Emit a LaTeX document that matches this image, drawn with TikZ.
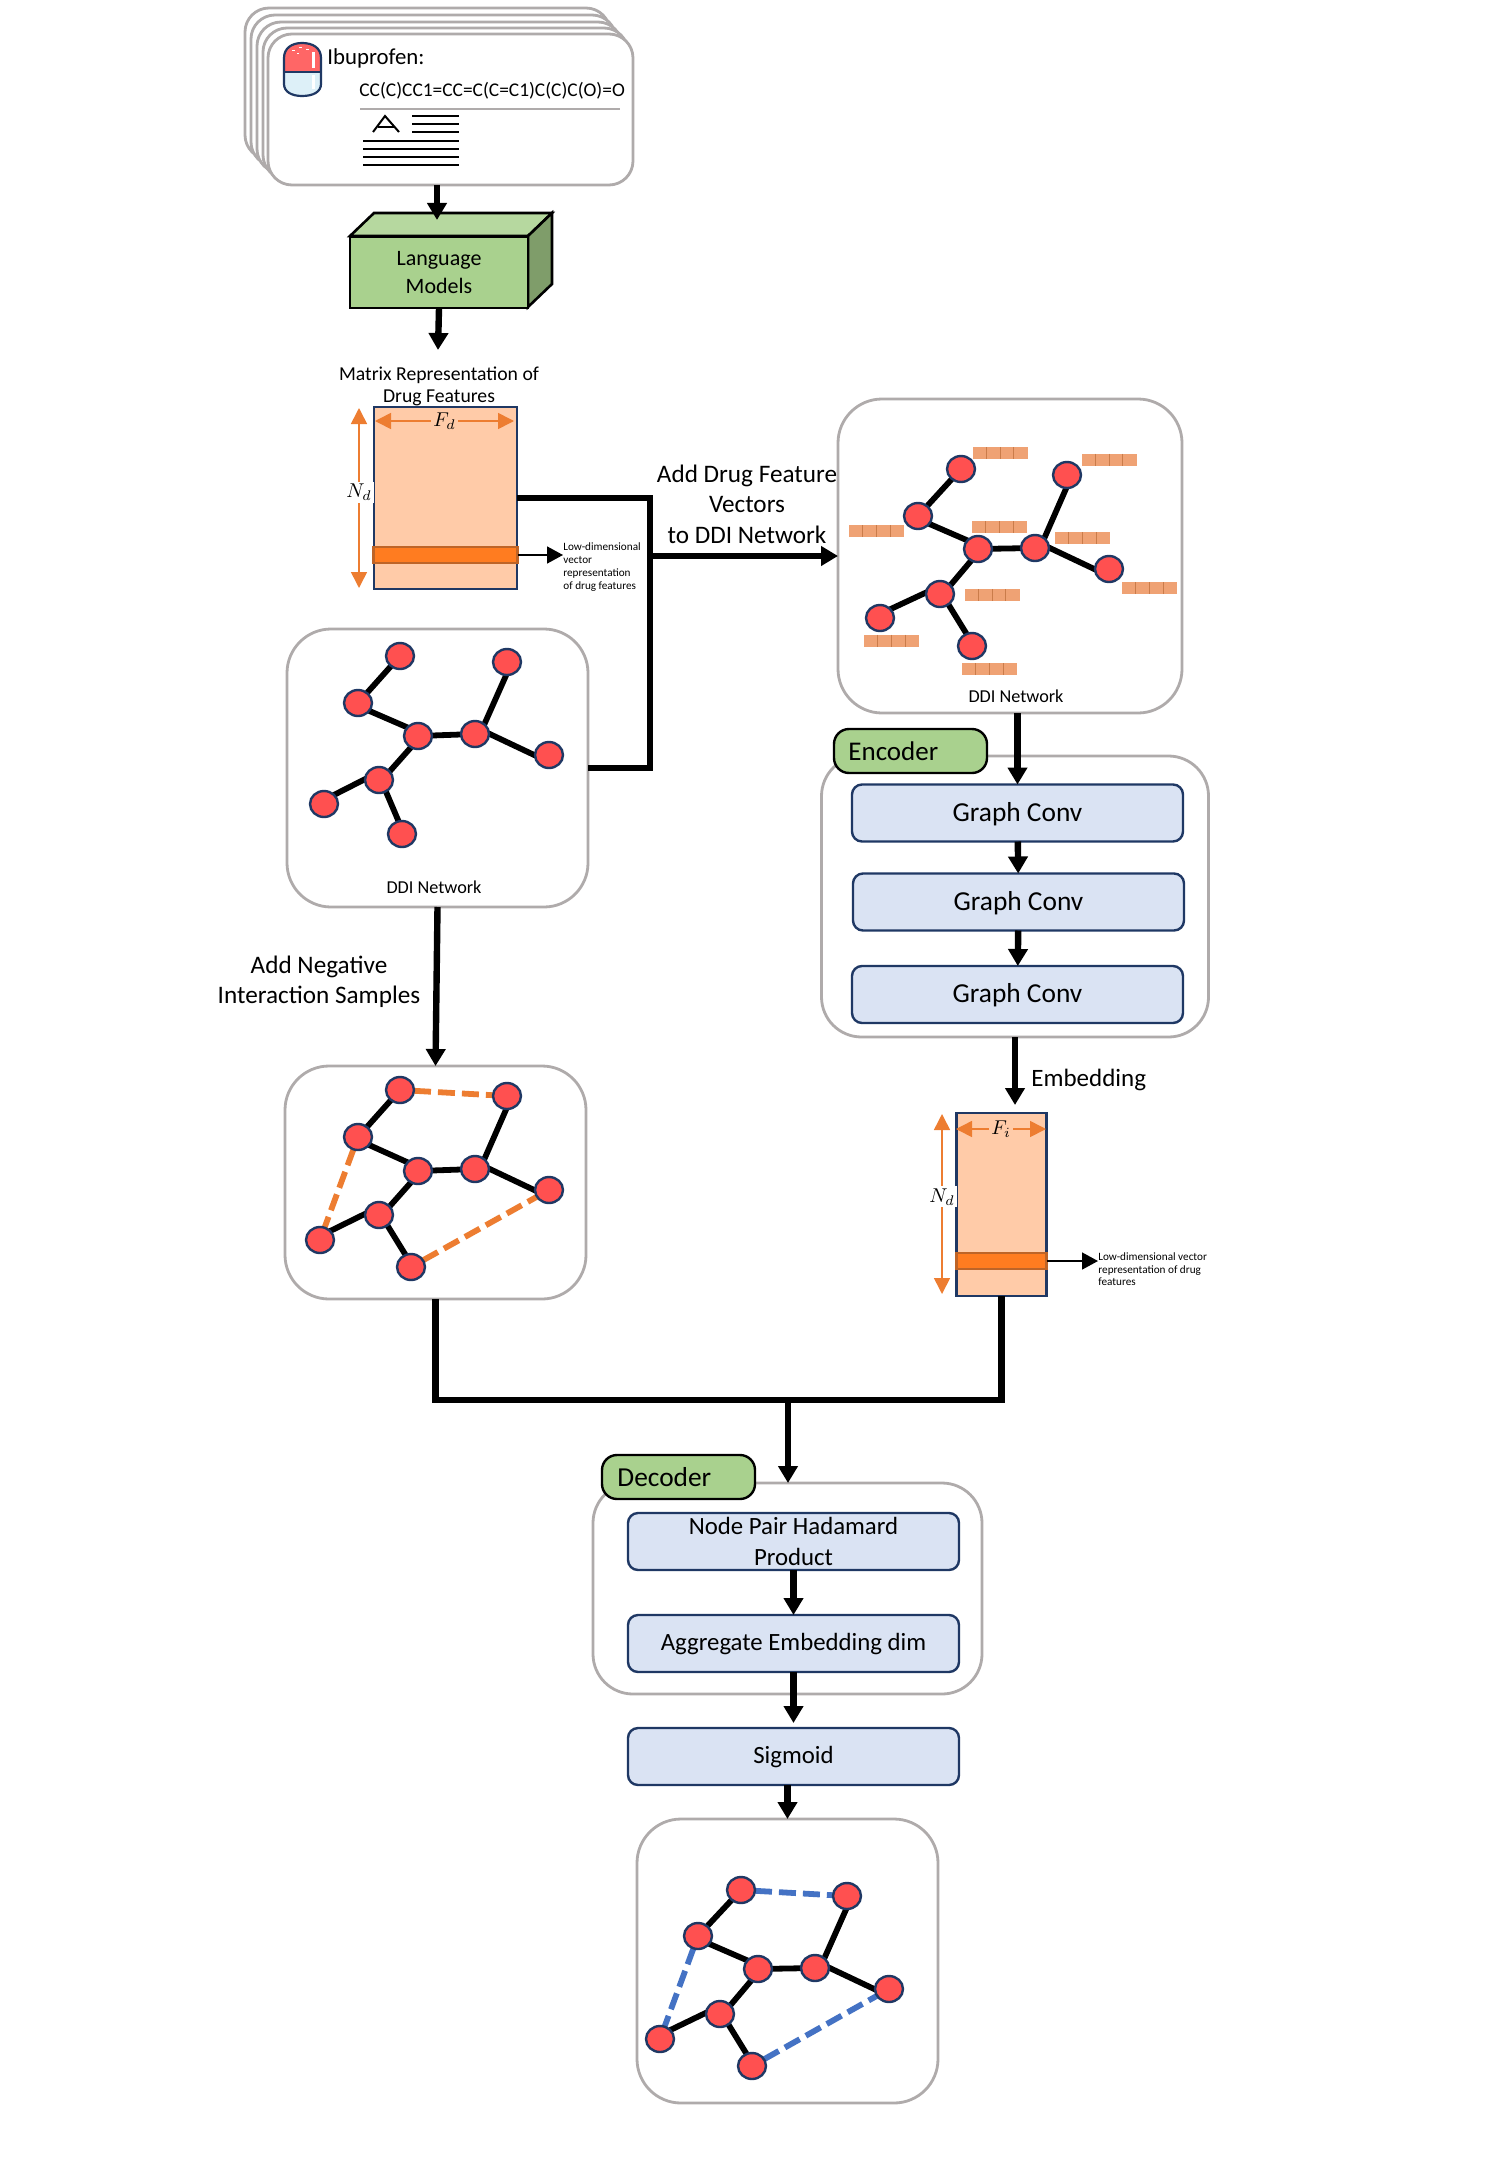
\documentclass[tikz,border=0pt]{standalone}
\usepackage{xcolor}
\usepackage{fontspec}
\setmainfont{Carlito}
\usetikzlibrary{arrows.meta}
\usetikzlibrary{shapes.geometric}
\definecolor{boxgray}{HTML}{AFABAB}
\definecolor{navy}{HTML}{1F3864}
\definecolor{nodered}{HTML}{FF5050}
\definecolor{langgreen}{HTML}{A9D18E}
\definecolor{peach}{HTML}{FFCBA8}
\definecolor{dimorange}{HTML}{ED7D31}
\definecolor{bandorange}{HTML}{FF7C20}
\definecolor{layerblue}{HTML}{DAE3F3}
\definecolor{linkblue}{HTML}{4472C4}
\definecolor{barorange}{HTML}{EFA274}
\pgfdeclarelayer{boxes}
\pgfdeclarelayer{links}
\pgfsetlayers{boxes,links,main}
\tikzset{
  edge/.style = {-{Triangle[length=8.5pt,width=9.5pt]},line width=3.2pt},
  wire/.style = {line width=3.2pt},
  thinedge/.style = {-{Triangle[length=8pt,width=8.5pt]},line width=.8pt},
  dimedge/.style = {{Triangle[length=8pt,width=8pt]}-{Triangle[length=8pt,width=8pt]},draw=dimorange,line width=.8pt},
  dimtext/.style = {inner sep=1pt,font=\fontsize{10}{12}\selectfont,text=black},
  link/.style = {line width=2.9pt},
  neglink/.style = {line width=2.9pt,draw=dimorange,dash pattern=on 8.5pt off 3.5pt},
  poslink/.style = {line width=2.9pt,draw=linkblue,dash pattern=on 8.5pt off 3.5pt},
  main node/.style = {ellipse,draw=navy,fill=nodered,line width=1.2pt,minimum width=14pt,minimum height=13pt,inner sep=0pt,outer sep=0pt},
  round box/.style = {draw=boxgray,fill=white,line width=1.4pt,rounded corners=22pt,outer sep=0pt,inner sep=0pt},
  card box/.style = {round box,rounded corners=12pt,minimum width=182.5pt,minimum height=75.5pt},
  layer box/.style = {draw=navy,fill=layerblue,line width=1.2pt,rounded corners=5pt,outer sep=0pt,inner sep=0pt,minimum width=165.5pt,minimum height=28.5pt,font=\fontsize{12.4}{15.4}\selectfont,align=center},
  conv box/.style = {layer box,font=\fontsize{13.7}{16}\selectfont,text height=11pt,text depth=3pt},
  one line/.style = {text height=10pt,text depth=3pt},
  tag box/.style = {draw=black,fill=langgreen,line width=1.2pt,rounded corners=7.5pt,outer sep=0pt,inner sep=0pt,minimum width=76.5pt,minimum height=22pt},
  matrix box/.style = {draw=navy,fill=peach,line width=1.4pt,outer sep=0pt,inner sep=0pt},
  band box/.style = {draw=dimorange!80!black,fill=bandorange,line width=1.2pt,outer sep=0pt,inner sep=0pt},
  feat bar/.style = {fill=barorange,minimum width=27.5pt,minimum height=6pt,inner sep=0pt,outer sep=0pt,
    path picture={\foreach \i in {1,2,3} \draw[dimorange!70!black,opacity=.5,line width=.4pt] ([xshift=\i*6.875pt]path picture bounding box.north west) -- ([xshift=\i*6.875pt]path picture bounding box.south west);}},
  big text/.style = {inner sep=0pt,font=\fontsize{12.6}{15.2}\selectfont,align=center},
  small text/.style = {inner sep=0pt,font=\fontsize{9.1}{11}\selectfont,align=center},
  tiny text/.style = {inner sep=0pt,font=\fontsize{5.6}{6.6}\selectfont,align=left},
}
% the tree shared by all four networks, its lines sit a little off the node centres
\newcommand{\netlinks}[1]{
  \begin{pgfonlayer}{links}
    \draw[link] (#11) -- (#12);
    \draw[link] ([yshift=-1.5pt]#12.center) -- ([yshift=2pt]#13.center);
    \draw[link] (#13) -- (#14);
    \draw[link] ([xshift=2.5pt]#14.center) -- ([xshift=2.5pt]#15.center);
    \draw[link] ([yshift=3.5pt]#14.center) -- ([yshift=-3.5pt]#16.center);
    \draw[link] ([xshift=1.5pt]#13.center) -- ([xshift=1.5pt]#17.center);
    \draw[link] ([yshift=4pt]#17.center) -- ([yshift=2pt]#18.center);
    \draw[link] ([xshift=1pt]#17.center) -- ([xshift=1pt]#19.center);
  \end{pgfonlayer}
}
\begin{document}
\begin{tikzpicture}[x=0.5pt,y=-0.5pt]
\path[use as bounding box] (0,0) rectangle (1500,2167);

% drug cards
\node[card box] (card1) at (427.5,83.5) {};
\node[card box] (card2) at (433.5,90.5) {};
\node[card box] (card3) at (439.5,97.5) {};
\node[card box] (card4) at (445.5,103.5) {};
\node[card box] (card5) at (450.5,109.5) {};

% pill
\fill[nodered!80!pink] (284,72) -- (284,58) .. controls (284,48) and (292,43) .. (302,43) .. controls (313,43) and (321,48) .. (321,58) -- (321,72) -- cycle;
\fill[cyan!12!white!95!gray] (284,72) -- (284,84) .. controls (284,92) and (292,96) .. (302,96) .. controls (313,96) and (321,92) .. (321,84) -- (321,72) -- cycle;
\draw[navy,line width=1.1pt] (284,72) -- (284,58) .. controls (284,48) and (292,43) .. (302,43) .. controls (313,43) and (321,48) .. (321,58) -- (321,84) .. controls (321,92) and (313,96) .. (302,96) .. controls (292,96) and (284,92) .. (284,84) -- cycle;
\draw[navy,line width=.6pt] (284,72) -- (321,72);
\fill[white] (312,52) rectangle (315,68);
\fill[white] (312,75) rectangle (315,89);
\fill[white] (292,50) rectangle (295,51);
\fill[white] (299,47) rectangle (302,48);
\fill[white] (306,49) rectangle (309,50);
\fill[white] (297,53) rectangle (299,54);

\node[big text,font=\fontsize{11.4}{13}\selectfont,anchor=west] (drugname) at (327,58) {Ibuprofen:};
\node[big text,font=\fontsize{9.7}{13}\selectfont,anchor=west] (smiles) at (359,91) {CC(C)CC1=CC=C(C=C1)C(C)C(O)=O};
\draw[boxgray,line width=.6pt] (360,109) -- (620,109);

% document icon
\draw[black,line width=1pt] (373,132) -- (385,116) -- (399,132);
\draw[black,line width=1pt] (378,127) -- (394,127);
\draw[black,line width=.6pt] (412,116) -- (459,116);
\draw[black,line width=.6pt] (412,124) -- (459,124);
\draw[black,line width=.6pt] (412,132) -- (459,132);
\draw[black,line width=.6pt] (363,141) -- (459,141);
\draw[black,line width=.6pt] (363,149) -- (459,149);
\draw[black,line width=.6pt] (363,157) -- (459,157);
\draw[black,line width=.6pt] (363,165) -- (459,165);

% language model block
\draw[black,fill=langgreen!85!white,line width=1.3pt] (350,236) -- (374,213) -- (552,213) -- (528,236) -- cycle;
\draw[black,fill=langgreen!75!black,line width=1.3pt] (528,236) -- (552,213) -- (552,284) -- (528,307) -- cycle;
\node[draw=black,fill=langgreen,line width=1.3pt,minimum width=89pt,minimum height=35.5pt,inner sep=0pt,outer sep=0pt,font=\fontsize{11}{14}\selectfont,align=center] (lang) at (439,272.5) {Language\\Models};
\coordinate (langtop) at (437,220);
\coordinate (matlabel) at (438,350);
\draw[edge] (card5.south -| langtop) -- (langtop);
\draw[edge] (lang.south) -- (matlabel);

% drug feature matrix
\node[small text,font=\fontsize{9.85}{11}\selectfont] (mattext) at (439,386) {Matrix Representation of\\Drug Features};
\node[matrix box,minimum width=71.5pt,minimum height=91pt] (matd) at (445.5,498) {};
\node[band box,minimum width=72pt,minimum height=8pt] (bandd) at (445.5,555) {};
\coordinate (fdl) at (375,421);
\coordinate (fdr) at (514,421);
\coordinate (ndt) at (359,408);
\coordinate (ndb) at (359,588);
\draw[dimedge] (fdl) -- node[dimtext,fill=peach] (fdlabel) {$F_d$} (fdr);
\draw[dimedge] (ndt) -- node[dimtext,pos=.47,fill=white] (ndlabel) {$N_d$} (ndb);
\node[tiny text,anchor=north west] (lowd) at (563,542) {Low-dimensional\\vector\\representation\\of drug features};
\draw[thinedge] (bandd.east) -- (lowd.west |- bandd.east);

% raw DDI network
\begin{pgfonlayer}{boxes}
\node[round box,minimum width=150.5pt,minimum height=139pt] (ddi) at (437.5,768) {};
\end{pgfonlayer}
\node[small text] (dditext) at (434,887) {DDI Network};
\node[main node] (a1) at (400,656) {};
\node[main node] (a2) at (358,703) {};
\node[main node] (a3) at (418,736) {};
\node[main node] (a4) at (475,734) {};
\node[main node] (a5) at (507,662) {};
\node[main node] (a6) at (549,755) {};
\node[main node] (a7) at (379,780) {};
\node[main node] (a8) at (324,804) {};
\node[main node] (a9) at (402,834) {};
\netlinks{a}

% network with features
\begin{pgfonlayer}{boxes}
\node[round box,minimum width=172pt,minimum height=157pt] (feat) at (1010,556) {};
\end{pgfonlayer}
\node[small text] (feattext) at (1016,696) {DDI Network};
\node[feat bar] (b1) at (1000,453) {};
\node[feat bar] (b2) at (1109,459.5) {};
\node[feat bar] (b3) at (876.5,531) {};
\node[feat bar] (b4) at (999.5,527) {};
\node[feat bar] (b5) at (1082.5,538) {};
\node[feat bar] (b6) at (1149.5,588) {};
\node[feat bar] (b7) at (992,595) {};
\node[feat bar] (b8) at (891.5,640.5) {};
\node[feat bar] (b9) at (989.5,669) {};
\node[main node] (f1) at (961,469) {};
\node[main node] (f2) at (918,516) {};
\node[main node] (f3) at (978,549) {};
\node[main node] (f4) at (1035,548) {};
\node[main node] (f5) at (1067,475) {};
\node[main node] (f6) at (1109,569) {};
\node[main node] (f7) at (940,594) {};
\node[main node] (f8) at (880,618) {};
\node[main node] (f9) at (972,646) {};
\netlinks{f}

% joins into the feature network
\coordinate (join) at (650,556);
\draw[wire] (matd.east) -| (join);
\draw[wire] (ddi.east) -| (join);
\draw[edge] (join) -- (feat.west);
\node[big text] (addtext) at (747,504) {Add Drug Feature\\Vectors\\to DDI Network};

% encoder
\begin{pgfonlayer}{boxes}
\node[round box,rounded corners=20pt,minimum width=193.5pt,minimum height=140.5pt] (enc) at (1015,896.5) {};
\end{pgfonlayer}
\node[tag box] (enctag) at (910.5,751) {};
\node[anchor=west,inner sep=0pt,font=\fontsize{13.5}{16}\selectfont] (enctext) at (848,751) {Encoder};
\node[conv box] (gc1) at (1017.5,813) {Graph Conv};
\node[conv box] (gc2) at (1018.5,902) {Graph Conv};
\node[conv box] (gc3) at (1017.5,994.5) {Graph Conv};
\draw[edge] (gc1.north |- feat.south) -- (gc1.north);
\draw[edge] (gc1) -- (gc2);
\draw[edge] (gc2) -- (gc3);

% embedding matrix
\node[matrix box,minimum width=45pt,minimum height=91.5pt] (mati) at (1001.5,1204.5) {};
\node[band box,minimum width=45pt,minimum height=8pt] (bandi) at (1001.5,1261) {};
\draw[edge,shorten >=4pt] (enc.south) -- (enc.south |- mati.north);
\node[big text,anchor=west,font=\fontsize{12.5}{15}\selectfont] (embtext) at (1031,1080) {Embedding};
\coordinate (fil) at (956,1129);
\coordinate (fir) at (1046,1129);
\coordinate (ndit) at (942,1114);
\coordinate (ndib) at (942,1294);
\draw[dimedge] (fil) -- node[dimtext,fill=peach] (filabel) {$F_i$} (fir);
\draw[dimedge] (ndit) -- node[dimtext,pos=.46,fill=white] (ndilabel) {$N_d$} (ndib);
\node[tiny text,anchor=north west,font=\fontsize{5.6}{6.2}\selectfont] (lowi) at (1098,1252.5) {Low-dimensional vector\\representation of drug\\features};
\draw[thinedge] (bandi.east) -- (lowi.west |- bandi.east);

% negative samples network
\node[big text,font=\fontsize{12.6}{15}\selectfont] (negtext) at (319,982) {Add Negative\\Interaction Samples};
\begin{pgfonlayer}{boxes}
\node[round box,minimum width=150.5pt,minimum height=116.5pt] (neg) at (435.5,1182.5) {};
\end{pgfonlayer}
\node[main node] (c1) at (400,1090) {};
\node[main node] (c2) at (358,1137) {};
\node[main node] (c3) at (418,1171) {};
\node[main node] (c4) at (475,1169) {};
\node[main node] (c5) at (507,1096) {};
\node[main node] (c6) at (549,1190) {};
\node[main node] (c7) at (379,1215) {};
\node[main node] (c8) at (320,1240) {};
\node[main node] (c9) at (411,1267) {};
\begin{pgfonlayer}{links}
\draw[neglink] (c1) -- (c5);
\draw[neglink] (c2) -- (c8);
\draw[neglink] (c9) -- (c6);
\end{pgfonlayer}
\netlinks{c}
\draw[edge] (ddi.south) -- (neg.north);

% decoder
\begin{pgfonlayer}{boxes}
\node[round box,rounded corners=20pt,minimum width=194.5pt,minimum height=105.5pt] (dec) at (787.5,1588.5) {};
\end{pgfonlayer}
\node[tag box] (dectag) at (678.5,1477) {};
\node[anchor=west,inner sep=0pt,font=\fontsize{13.7}{16}\selectfont] (dectext) at (617,1477) {Decoder};
\node[layer box] (np) at (793.5,1541.5) {Node Pair Hadamard\\Product};
\node[layer box,one line] (ag) at (793.5,1643.5) {Aggregate Embedding dim};
\node[layer box,one line] (sg) at (793.5,1756.5) {Sigmoid};
\draw[edge] (np) -- (ag);
\draw[edge,shorten >=2.5pt] (ag) -- (sg);

% merge into decoder
\coordinate (merge) at (788,1400);
\draw[wire] (neg.south) |- (merge) -| (mati.south);
\draw[edge] (merge) -- (merge |- dec.north);

% predicted network
\begin{pgfonlayer}{boxes}
\node[round box,minimum width=150.5pt,minimum height=142pt] (pred) at (787.5,1961) {};
\end{pgfonlayer}
\node[main node] (d1) at (741,1890) {};
\node[main node] (d2) at (698,1936) {};
\node[main node] (d3) at (758,1969) {};
\node[main node] (d4) at (815,1968) {};
\node[main node] (d5) at (847,1896) {};
\node[main node] (d6) at (889,1989) {};
\node[main node] (d7) at (720,2014) {};
\node[main node] (d8) at (660,2039) {};
\node[main node] (d9) at (752,2066) {};
\begin{pgfonlayer}{links}
\draw[poslink] (d1) -- (d5);
\draw[poslink] (d2) -- (d8);
\draw[poslink] (d9) -- (d6);
\end{pgfonlayer}
\netlinks{d}
\draw[edge] (sg.south -| pred.north) -- (pred.north);
\end{tikzpicture}
\end{document}
